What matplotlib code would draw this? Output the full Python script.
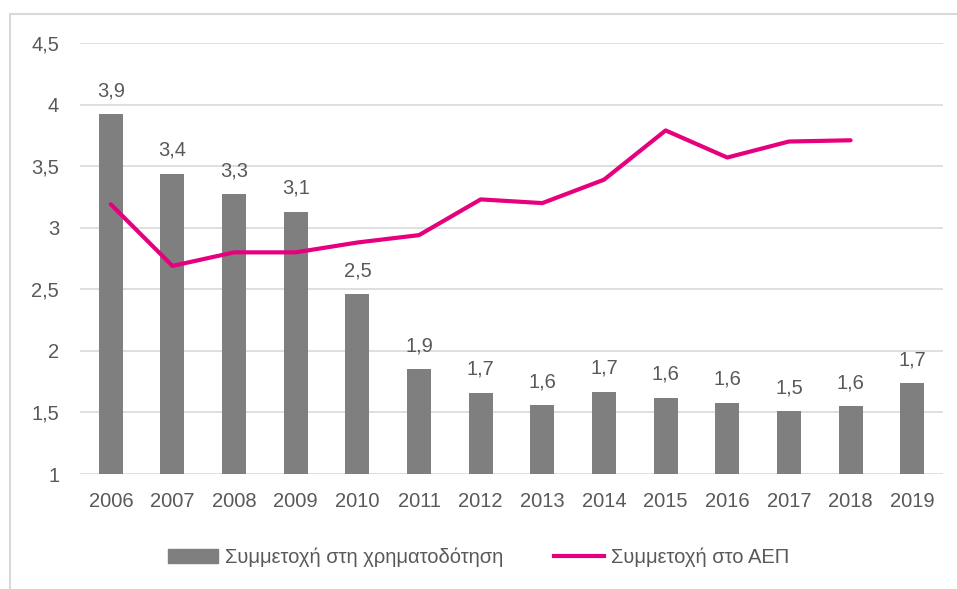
import numpy as np
import matplotlib.pyplot as plt
from matplotlib.patches import Rectangle
from matplotlib.lines import Line2D
from matplotlib.patches import Patch

years = ['2006', '2007', '2008', '2009', '2010', '2011', '2012',
         '2013', '2014', '2015', '2016', '2017', '2018', '2019']
funding = [3.92, 3.44, 3.27, 3.13, 2.46, 1.85, 1.66,
           1.56, 1.67, 1.62, 1.58, 1.51, 1.55, 1.74]
gdp = [3.19, 2.69, 2.80, 2.80, 2.88, 2.94, 3.23,
       3.20, 3.39, 3.79, 3.57, 3.70, 3.71, np.nan]
yticks = [1, 1.5, 2, 2.5, 3, 3.5, 4, 4.5]

plt.rcParams['font.family'] = ['Liberation Sans Narrow', 'Liberation Sans', 'DejaVu Sans']
txt = '#595959'

fig = plt.figure(figsize=(9.57, 5.89), dpi=100)
ax = fig.add_axes([0.0836, 0.1952, 0.9018, 0.7318])

x = np.arange(len(years))
ax.bar(x, funding, width=0.39, color='#7f7f7f', zorder=2)
ax.plot(x, gdp, color='#e6007e', lw=3, zorder=3, solid_capstyle='round')

for xi, v in zip(x, funding):
    ax.annotate(('%.1f' % v).replace('.', ','), (xi, v), xytext=(0, 10),
                textcoords='offset points', ha='center', va='bottom',
                fontsize=14.5, color=txt)

ax.set_ylim(1, 4.5)
ax.set_xlim(-0.5, len(years) - 0.5)
ax.set_yticks(yticks)
ax.set_yticklabels([('%g' % t).replace('.', ',') for t in yticks])
ax.set_xticks(x)
ax.set_xticklabels(years)
ax.tick_params(axis='both', length=0, labelsize=14.5, colors=txt)
ax.tick_params(axis='y', pad=15)
ax.tick_params(axis='x', pad=13)
ax.grid(axis='y', color='#d9d9d9', lw=1.2, zorder=0)
for s in ax.spines.values():
    s.set_visible(False)

handles = [Patch(color='#7f7f7f'), Line2D([], [], color='#e6007e', lw=3)]
labels = ['Συμμετοχή στη χρηματοδότηση', 'Συμμετοχή στο ΑΕΠ']
leg = fig.legend(handles, labels, loc='center', bbox_to_anchor=(0.5, 0.054),
                 ncol=2, frameon=False, fontsize=14.5, handlelength=2.5,
                 handletextpad=0.35, columnspacing=2.5)
for t in leg.get_texts():
    t.set_color(txt)

fig.patches.append(Rectangle((10 / 957, -0.05), 1.0, 1 - 14 / 589 + 0.05,
                             transform=fig.transFigure, fill=False,
                             edgecolor='#d9d9d9', lw=1.5))

fig.savefig('out.png', dpi=100)
